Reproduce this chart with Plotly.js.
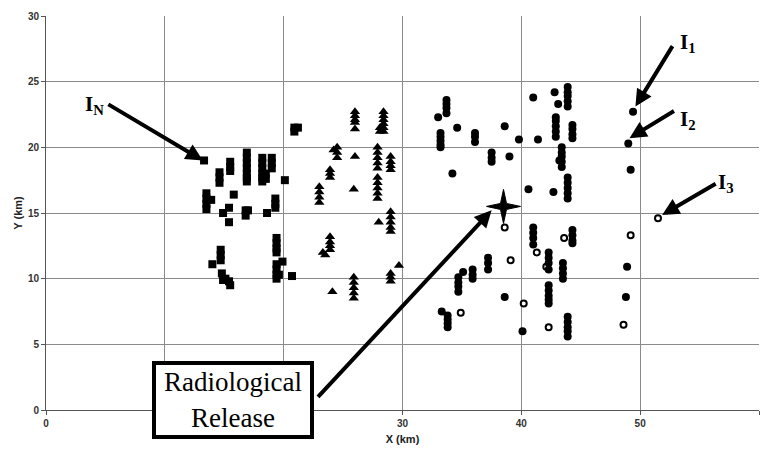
<!DOCTYPE html>
<html>
<head>
<meta charset="utf-8">
<script src="https://cdn.plot.ly/plotly-3.0.1.min.js"></script>
<style>html,body{margin:0;padding:0;background:#fff;}#chart{width:760px;height:451px;}</style>
</head>
<body>
<div id="chart"></div>
<script>
// Square receptors
const squareX = [13.3, 15.5,15.5,15.5, 14.6,14.6,14.6, 16.9,16.9,16.9,16.9,16.9,16.9,16.9,
  18.2,18.2,18.2,18.2,18.2,18.2, 18.5,18.5, 19.0,19.0,19.0, 20.1,
  13.5,13.5,13.5,13.5, 13.9, 15.8, 15.4, 14.9, 16.8,16.8, 17.0, 15.4, 18.6, 19.3,19.3,19.3,
  19.4,19.4,19.4,19.4, 14.7,14.7,14.7, 14.0, 19.9, 19.4,19.4,19.4,19.4, 19.6,
  14.8, 15.1, 15.4, 14.9, 15.5, 20.7, 20.9, 21.2, 20.9];
const squareY = [19.0, 18.9,18.5,18.2, 18.1,17.7,17.3, 19.6,19.2,18.8,18.4,18.0,17.7,17.4,
  19.2,18.8,18.4,18.0,17.7,17.4, 18.0,17.6, 19.2,18.8,18.4, 17.5,
  16.5,16.1,15.7,15.3, 16.0, 16.4, 15.4, 15.0, 15.2,14.8, 15.2, 14.3, 15.0, 16.1,15.7,15.4,
  13.1,12.7,12.3,12.0, 12.2,11.8,11.4, 11.1, 11.3, 11.1,10.7,10.3,10.0, 10.3,
  10.4, 10.0, 9.8, 9.9, 9.5, 10.2, 21.5, 21.5, 21.2];

// Triangle receptors
const triX = [26.0,26.0,26.0,26.0, 26.0, 28.4,28.4,28.4,28.4,28.4,28.4, 28.1,28.1,
  24.5,24.5,24.5, 24.2, 26.0, 27.9,27.9,27.9,27.9,27.9, 29.0,29.0,29.0,29.0,
  23.9,23.9,23.9, 23.0,23.0,23.0,23.0, 25.9, 27.9,27.9,27.9,27.9,27.9,
  29.0,29.0,29.0,29.0,29.0, 28.0, 23.9,23.9,23.9,23.9, 23.3, 23.5, 29.7,
  29.0,29.0,29.0, 24.1, 25.9,25.9,25.9,25.9,25.9];
const triY = [22.7,22.4,22.1,21.9, 21.4, 22.7,22.4,22.1,21.8,21.5,21.2, 21.5,21.2,
  20.0,19.6,19.2, 19.8, 19.3, 20.0,19.6,19.2,18.8,18.4, 19.3,18.9,18.6,18.3,
  18.3,18.0,17.7, 17.0,16.6,16.2,15.8, 16.8, 17.7,17.3,16.9,16.5,16.1,
  15.1,14.7,14.3,13.9,13.6, 14.3, 13.2,12.8,12.5,12.2, 12.0, 11.8, 11.0,
  10.4,10.1,9.8, 9.0, 10.1,9.7,9.3,8.9,8.5];

// Filled circle receptors
const dotX = [33.7,33.7,33.7,33.7, 33.0, 34.6, 33.2,33.2,33.2,33.2,33.2, 36.1,36.1,36.1,
  38.6, 39.8, 37.5,37.5,37.5, 39.0, 34.2, 41.0, 42.8, 43.1, 43.9,43.9,43.9,43.9,43.9,
  41.4, 42.9,42.9,42.9,42.9,42.9, 44.3,44.3,44.3,44.3, 43.4,43.4,43.4,43.4,43.4, 43.2,
  40.6, 42.7, 43.9,43.9,43.9,43.9,43.9, 41.0,41.0,41.0,41.0, 44.3,44.3,44.3,44.3,
  42.3,42.3,42.3,42.3, 43.5,43.5,43.5,43.5, 37.2,37.2,37.2, 35.1, 35.9,35.9,35.9,
  34.7,34.7,34.7,34.7, 42.3,42.3,42.3,42.3,42.3, 38.6, 33.3, 33.8,33.8,33.8,33.8,
  40.1, 43.9,43.9,43.9,43.9,43.9, 49.4, 49.0, 49.2, 48.9, 48.8];
const dotY = [23.6,23.3,23.0,22.6, 22.3, 21.5, 21.1,20.8,20.5,20.2,20.0, 21.1,20.8,20.4,
  21.6, 20.6, 19.6,19.2,18.9, 19.3, 18.0, 23.8, 24.2, 23.3, 24.6,24.2,23.9,23.5,23.1,
  20.6, 22.3,22.0,21.6,21.2,20.8, 21.7,21.4,21.0,20.7, 20.0,19.6,19.3,18.9,18.5, 19.0,
  16.8, 16.6, 17.7,17.3,16.9,16.5,16.1, 13.9,13.5,13.1,12.6, 13.7,13.3,12.9,12.7,
  12.0,11.6,11.2,10.7, 11.2,10.8,10.4,10.0, 11.6,11.2,10.7, 10.5, 10.7,10.3,10.0,
  10.1,9.7,9.4,9.0, 9.5,9.1,8.7,8.4,8.1, 8.6, 7.5, 7.2,6.9,6.6,6.3,
  6.0, 7.1,6.7,6.3,6.0,5.6, 22.7, 20.3, 18.3, 10.9, 8.6];

// Open circle receptors
const ringX = [38.6, 43.6, 41.3, 42.1, 39.1, 40.2, 34.9, 42.3, 51.5, 49.2, 48.6];
const ringY = [13.9, 13.1, 12.0, 10.9, 11.4, 8.1, 7.4, 6.3, 14.6, 13.3, 6.5];

// Release point
const releaseX = [38.5];
const releaseY = [15.5];

const xTicks = [0, 10, 20, 30, 40, 50, 60];
const yTicks = [0, 5, 10, 15, 20, 25, 30];

const traces = [
  {x: squareX, y: squareY, type: 'scatter', mode: 'markers', marker: {symbol: 'square', size: 8, color: '#000'}},
  {x: triX, y: triY, type: 'scatter', mode: 'markers', marker: {symbol: 'triangle-up', size: 9, color: '#000'}},
  {x: dotX, y: dotY, type: 'scatter', mode: 'markers', marker: {symbol: 'circle', size: 8, color: '#000'}},
  {x: ringX, y: ringY, type: 'scatter', mode: 'markers', marker: {symbol: 'circle-open', size: 6, color: '#000', line: {width: 2, color: '#000'}}}
];

const tickFont = {family: 'Liberation Sans, Arial, sans-serif', size: 10, color: '#333', weight: 'bold'};
const labelFont = {family: 'Liberation Serif, Times New Roman, serif', size: 21, color: '#000', weight: 'bold'};
const arrow = {text: '', showarrow: true, arrowhead: 2, arrowsize: 0.85, arrowwidth: 4, arrowcolor: '#000', xref: 'x', yref: 'y', axref: 'pixel', ayref: 'pixel'};

// Four-pointed star (pixel-sized) anchored at the release point
const R = 17, r = 3;
const starPath = `M ${-R} 0 L ${-r} ${r} L 0 ${R} L ${r} ${r} L ${R} 0 L ${r} ${-r} L 0 ${-R} L ${-r} ${-r} Z`;

const layout = {
  width: 760, height: 451,
  margin: {l: 46, r: 1, t: 16, b: 41},
  paper_bgcolor: '#fff', plot_bgcolor: '#fff',
  showlegend: false,
  xaxis: {
    range: [0, 60], tickvals: xTicks, ticktext: xTicks.map(String),
    showgrid: true, gridcolor: '#8a8a8a', gridwidth: 1, zeroline: false,
    showline: true, linecolor: '#555', linewidth: 1,
    ticks: 'outside', ticklen: 4, tickcolor: '#555', tickfont: tickFont,
    title: {text: 'X (km)', font: {family: 'Liberation Sans, Arial, sans-serif', size: 11, color: '#222', weight: 'bold'}, standoff: 7},
    fixedrange: true
  },
  yaxis: {
    range: [0, 30], tickvals: yTicks, ticktext: yTicks.map(String),
    showgrid: true, gridcolor: '#8a8a8a', gridwidth: 1, zeroline: false,
    showline: true, linecolor: '#555', linewidth: 1,
    ticks: 'outside', ticklen: 4, tickcolor: '#555', tickfont: tickFont,
    title: {text: 'Y (km)', font: {family: 'Liberation Sans, Arial, sans-serif', size: 11, color: '#222', weight: 'bold'}, standoff: 3},
    fixedrange: true
  },
  shapes: [
    {type: 'path', xref: 'x', yref: 'y', xsizemode: 'pixel', ysizemode: 'pixel',
     xanchor: releaseX[0], yanchor: releaseY[0], path: starPath,
     fillcolor: '#000', line: {color: '#000', width: 1}, layer: 'above'}
  ],
  annotations: [
    Object.assign({}, arrow, {x: 13.2, y: 19.0, ax: -96, ay: -57}),
    Object.assign({}, arrow, {x: 49.6, y: 23.1, ax: 38, ay: -62}),
    Object.assign({}, arrow, {x: 49.1, y: 20.7, ax: 46, ay: -28}),
    Object.assign({}, arrow, {x: 51.85, y: 14.85, ax: 55, ay: -32}),
    Object.assign({}, arrow, {x: 37.5, y: 15.2, ax: -175, ay: 188}),
    {x: 4.1, y: 23.2, xref: 'x', yref: 'y', text: 'I<sub>N</sub>', showarrow: false, font: labelFont},
    {x: 54.0, y: 27.95, xref: 'x', yref: 'y', text: 'I<sub>1</sub>', showarrow: false, font: labelFont},
    {x: 54.0, y: 22.1, xref: 'x', yref: 'y', text: 'I<sub>2</sub>', showarrow: false, font: labelFont},
    {x: 57.2, y: 17.3, xref: 'x', yref: 'y', text: 'I<sub>3</sub>', showarrow: false, font: labelFont},
    {x: 15.7, y: 0.76, xref: 'x', yref: 'y', xanchor: 'center', yanchor: 'middle',
     text: 'Radiological<br>Release', showarrow: false,
     font: {family: 'Liberation Serif, Times New Roman, serif', size: 27, color: '#000'},
     bgcolor: '#fff', bordercolor: '#000', borderwidth: 4, borderpad: 3, width: 148, height: 64}
  ]
};

Plotly.newPlot('chart', traces, layout, {displayModeBar: false, staticPlot: true});
</script>
</body>
</html>
